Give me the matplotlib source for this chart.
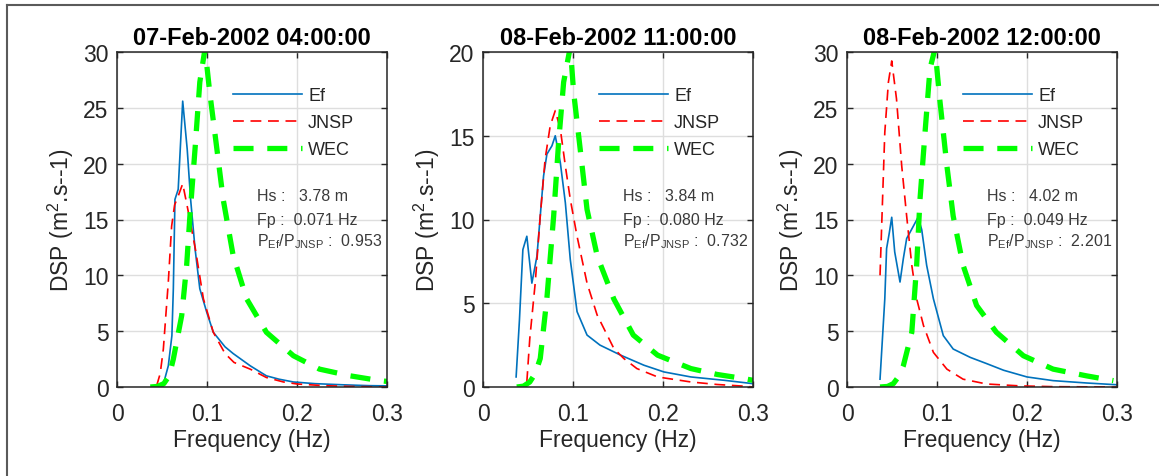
import matplotlib
matplotlib.use("Agg")
import matplotlib.pyplot as plt
from matplotlib.lines import Line2D

plt.rcParams["font.family"] = ["Liberation Sans", "DejaVu Sans"]
plt.rcParams["mathtext.fontset"] = "custom"
plt.rcParams["mathtext.rm"] = "Liberation Sans"

# ---- data ----
titles = ["07-Feb-2002 04:00:00", "08-Feb-2002 11:00:00", "08-Feb-2002 12:00:00"]
ymaxes = [30, 20, 30]
hs_vals = ["3.78", "3.84", "4.02"]
fp_vals = ["0.071", "0.080", "0.049"]
ratio_vals = ["0.953", "0.732", "2.201"]
xticks = [0, 0.1, 0.2, 0.3]
xticklabels = ["0", "0.1", "0.2", "0.3"]

# panel 1
ef1_f = [0.051, 0.057, 0.061, 0.0626, 0.0644, 0.068, 0.073, 0.078, 0.0818, 0.0867,
         0.092, 0.0997, 0.107, 0.12, 0.129, 0.148, 0.166, 0.18, 0.196, 0.22, 0.25, 0.28, 0.3]
ef1_p = [0.1, 1.9, 4.6, 8.8, 16.8, 17.7, 25.6, 21.3, 16.8, 12.4,
         8.8, 6.7, 4.9, 3.6, 3.0, 1.9, 1.0, 0.7, 0.45, 0.3, 0.2, 0.12, 0.1]
jn1_f = [0.044, 0.048, 0.0515, 0.057, 0.0607, 0.064, 0.068, 0.073, 0.078, 0.087,
         0.096, 0.107, 0.12, 0.13, 0.148, 0.166, 0.185, 0.2, 0.23, 0.26, 0.3]
jn1_p = [0.1, 1.2, 3.4, 9.4, 14.4, 16.3, 17.1, 18.2, 16.2, 12.4,
         7.9, 4.9, 3.0, 2.2, 1.6, 0.85, 0.45, 0.27, 0.12, 0.05, 0.0]
wec1_f = [0.037, 0.045, 0.052, 0.058, 0.0626, 0.0719, 0.0774, 0.081, 0.0867, 0.092,
          0.0978, 0.103, 0.111, 0.118, 0.129, 0.144, 0.166, 0.196, 0.225, 0.259, 0.292, 0.3]
wec1_p = [0.0, 0.05, 0.3, 1.0, 2.5, 6.4, 10.9, 15.3, 21.3, 27.3,
          30.3, 26.4, 21.3, 16.8, 11.8, 7.9, 4.9, 2.8, 1.6, 1.0, 0.57, 0.5]

# panel 2
ef2_f = [0.0368, 0.0405, 0.0443, 0.0487, 0.0543, 0.0599, 0.0636, 0.0673, 0.071, 0.0766,
         0.0803, 0.0859, 0.0915, 0.097, 0.1045, 0.1156, 0.13, 0.153, 0.1788, 0.201,
         0.231, 0.268, 0.3]
ef2_p = [0.6, 4.0, 8.2, 9.0, 6.2, 7.8, 10.2, 12.6, 13.9, 14.4,
         15.0, 13.4, 11.0, 7.6, 4.5, 3.1, 2.5, 1.9, 1.3, 0.9,
         0.6, 0.4, 0.2]
jn2_f = [0.0487, 0.052, 0.058, 0.0636, 0.069, 0.0747, 0.0803, 0.0859, 0.0915, 0.097,
         0.1045, 0.1156, 0.1268, 0.1454, 0.1565, 0.171, 0.194, 0.231, 0.26, 0.29, 0.3]
jn2_p = [0.3, 2.9, 6.2, 10.2, 13.6, 15.6, 16.5, 15.4, 13.2, 11.2,
         9.0, 6.2, 4.3, 2.3, 1.7, 1.1, 0.6, 0.3, 0.15, 0.05, 0.0]
wec2_f = [0.0375, 0.045, 0.052, 0.058, 0.0636, 0.071, 0.0785, 0.084, 0.0896, 0.097,
          0.1007, 0.108, 0.1156, 0.127, 0.1454, 0.167, 0.194, 0.231, 0.26, 0.29, 0.3]
wec2_p = [0.0, 0.05, 0.3, 0.8, 1.7, 5.3, 10.2, 14.6, 18.2, 20.3,
          17.6, 14.2, 10.6, 7.8, 5.25, 3.1, 1.9, 1.1, 0.75, 0.5, 0.4]

# panel 3
ef3_f = [0.0367, 0.042, 0.044, 0.047, 0.0497, 0.053, 0.0589, 0.0626, 0.0663, 0.0737,
         0.079, 0.083, 0.0885, 0.096, 0.107, 0.118, 0.137, 0.155, 0.174, 0.2,
         0.229, 0.266, 0.3]
ef3_p = [0.7, 7.9, 12.4, 13.8, 15.2, 12.1, 9.4, 11.5, 13.3, 14.4,
         15.2, 14.1, 10.9, 7.9, 4.6, 3.4, 2.65, 2.1, 1.5, 0.9,
         0.57, 0.36, 0.2]
jn3_f = [0.0367, 0.04, 0.042, 0.046, 0.0497, 0.055, 0.0608, 0.0663, 0.072, 0.0774,
         0.085, 0.096, 0.111, 0.129, 0.155, 0.192, 0.23, 0.3]
jn3_p = [10.0, 18.0, 22.8, 27.3, 29.2, 25.8, 19.8, 15.3, 10.9, 7.9,
         5.5, 3.1, 1.6, 0.7, 0.27, 0.1, 0.03, 0.0]
wec3_f = [0.0367, 0.045, 0.0515, 0.058, 0.0626, 0.072, 0.0774, 0.0811, 0.0867, 0.0922,
          0.0978, 0.103, 0.111, 0.118, 0.129, 0.144, 0.166, 0.196, 0.229, 0.266, 0.296]
wec3_p = [0.0, 0.05, 0.3, 1.0, 1.9, 4.9, 10.9, 16.8, 22.8, 28.5,
          30.3, 25.8, 19.8, 15.3, 10.9, 7.3, 4.9, 2.8, 1.6, 1.0, 0.57]

panels = [
    (ef1_f, ef1_p, jn1_f, jn1_p, wec1_f, wec1_p),
    (ef2_f, ef2_p, jn2_f, jn2_p, wec2_f, wec2_p),
    (ef3_f, ef3_p, jn3_f, jn3_p, wec3_f, wec3_p),
]

TXT = "#262626"
fig = plt.figure(figsize=(11.59, 4.77), dpi=100)

lefts = [117, 483, 847]
for k, (ef_f, ef_p, jn_f, jn_p, wec_f, wec_p) in enumerate(panels):
    ax = fig.add_axes([lefts[k] / 1159, 1 - 388 / 477, 270 / 1159, 335 / 477])
    ax.plot(ef_f, ef_p, color="#0072BD", lw=1.2, label="Ef")
    ax.plot(jn_f, jn_p, color="#FF0000", lw=1.2, dashes=(6.5, 4), label="JNSP")
    ax.plot(wec_f, wec_p, color="#00FF00", lw=3.8, dashes=(3.8, 2.6), label="WEC")

    ymax = ymaxes[k]
    ax.set_xlim(0, 0.3)
    ax.set_ylim(0, ymax)
    ax.set_xticks(xticks)
    ax.set_xticklabels(xticklabels)
    ax.set_yticks(range(0, ymax + 1, 5))
    ax.grid(True, color="#dedede", lw=1.0)
    ax.set_axisbelow(True)
    ax.tick_params(direction="in", top=True, right=True, length=4, width=1.0,
                   colors=TXT, labelsize=16.5)
    ax.tick_params(axis="x", pad=11)
    ax.tick_params(axis="y", pad=6)
    for sp in ax.spines.values():
        sp.set_color(TXT)
        sp.set_linewidth(1.1)

    ax.set_title(titles[k], fontsize=17, fontweight="bold", color="black", pad=6)
    ax.set_xlabel("Frequency (Hz)", fontsize=16.5, color=TXT, labelpad=2)
    ax.set_ylabel(r"DSP (m$\mathregular{^2}$.s--1)", fontsize=16.5, color=TXT,
                  labelpad=5)

    leg = ax.legend(loc="upper left", bbox_to_anchor=(0.43, 0.895), frameon=False,
                    fontsize=13, handlelength=3.8, handletextpad=0.35,
                    labelspacing=0.55, borderpad=0, borderaxespad=0)
    for t in leg.get_texts():
        t.set_color(TXT)

    ax.text(0.517, 0.571, "Hs :   " + hs_vals[k] + " m", transform=ax.transAxes,
            fontsize=11.5, color="#3a3a3a", va="center")
    ax.text(0.517, 0.501, "Fp :  " + fp_vals[k] + " Hz", transform=ax.transAxes,
            fontsize=11.5, color="#3a3a3a", va="center")
    ax.text(0.517, 0.437, r"P$\mathregular{_{Ef}}$/P$\mathregular{_{JNSP}}$ :  "
            + ratio_vals[k], transform=ax.transAxes,
            fontsize=11.5, color="#3a3a3a", va="center")

# outer frame (top and left edges only)
fig.add_artist(Line2D([7 / 1159, 1], [1 - 6 / 477, 1 - 6 / 477], color="#5a5a5a", lw=1.5))
fig.add_artist(Line2D([7 / 1159, 7 / 1159], [0, 1 - 6 / 477], color="#5a5a5a", lw=1.5))

fig.savefig("out.png", dpi=100)
